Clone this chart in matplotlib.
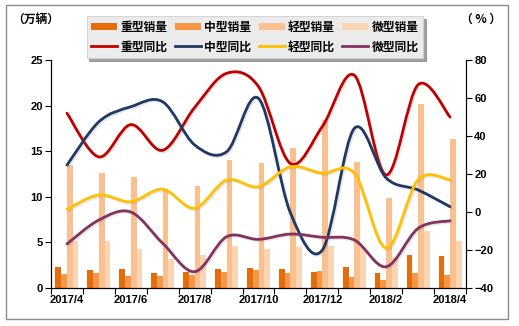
import matplotlib
matplotlib.use("Agg")
import matplotlib.pyplot as plt
import matplotlib.patheffects as pe
from matplotlib.path import Path
from matplotlib.patches import PathPatch, Rectangle
import numpy as np

plt.rcParams['font.family'] = ['Liberation Sans', 'Noto Sans CJK SC', 'DejaVu Sans']
plt.rcParams['font.weight'] = 'bold'

months = ['2017/4', '2017/5', '2017/6', '2017/7', '2017/8', '2017/9', '2017/10',
          '2017/11', '2017/12', '2018/1', '2018/2', '2018/3', '2018/4']

# sales volume, 10k units
heavy_sales = [2.3, 2.0, 2.1, 1.65, 1.7, 2.1, 2.2, 2.1, 1.8, 2.3, 1.65, 3.6, 3.5]
medium_sales = [1.5, 1.65, 1.3, 1.3, 1.4, 1.75, 2.0, 1.65, 1.85, 1.2, 0.9, 1.65, 1.4]
light_sales = [13.5, 12.6, 12.2, 10.9, 11.2, 14.0, 13.7, 15.3, 18.4, 13.8, 9.9, 20.2, 16.3]
micro_sales = [5.1, 5.1, 4.3, 3.2, 3.6, 4.6, 4.3, 4.5, 4.6, 4.5, 3.4, 6.3, 5.1]

# year-on-year growth, %
heavy_yoy = [52, 29, 46, 32.5, 55, 73, 66, 25.5, 45, 72, 19.5, 67, 50]
medium_yoy = [24.7, 47.5, 55.4, 58, 35.3, 31.7, 59.8, -0.5, -20, 44, 17.9, 11.6, 2.8]
light_yoy = [1.4, 9, 5.4, 12, 2, 16.8, 13.3, 23.8, 20.4, 20.4, -19, 17, 17]
micro_yoy = [-16.8, -4.2, 0, -16.5, -31.4, -13, -14.4, -11.6, -13.3, -14.7, -28.8, -8.6, -4.6]

bar_labels = ['重型销量', '中型销量', '轻型销量', '微型销量']
line_labels = ['重型同比', '中型同比', '轻型同比', '微型同比']
bar_colors = ['#E46C0A', '#F79646', '#FAC090', '#FCD5B5']
line_colors = ['#C00000', '#1F3864', '#FFC000', '#84325E']
cjk = ['Noto Sans CJK SC', 'DejaVu Sans']

W, H = 519, 326
fig = plt.figure(figsize=(W / 100, H / 100), dpi=100)
fig.patches.append(Rectangle((6 / W, 1 - 319 / H), 502 / W, 314 / H, transform=fig.transFigure,
                             fill=False, edgecolor='#8c8c8c', linewidth=1.0))

ax = fig.add_axes([51 / W, 1 - 288 / H, 415 / W, 228 / H])
ax2 = ax.twinx()

x = np.arange(len(months))
bw = 0.18
offsets = [-1.5 * bw, -0.5 * bw, 0.5 * bw, 1.5 * bw]
bar_handles = []
for vals, off, col, lab in zip([heavy_sales, medium_sales, light_sales, micro_sales],
                               offsets, bar_colors, bar_labels):
    h = ax.bar(x + off, vals, width=bw, color=col, label=lab, zorder=2, linewidth=0)
    bar_handles.append(h)


def smooth_path(xs, ys):
    """Cardinal-spline (Catmull-Rom) curve through the points as cubic Beziers."""
    pts = np.column_stack([xs, ys]).astype(float)
    n = len(pts)
    verts = [pts[0]]
    codes = [Path.MOVETO]
    for i in range(n - 1):
        p0 = pts[i - 1] if i > 0 else pts[i]
        p1 = pts[i]
        p2 = pts[i + 1]
        p3 = pts[i + 2] if i + 2 < n else pts[i + 1]
        c1 = p1 + (p2 - p0) / 6.0
        c2 = p2 - (p3 - p1) / 6.0
        verts += [c1, c2, p2]
        codes += [Path.CURVE4] * 3
    return Path(verts, codes)


line_handles = []
for vals, col, lab in zip([heavy_yoy, medium_yoy, light_yoy, micro_yoy], line_colors, line_labels):
    patch = PathPatch(smooth_path(x, vals), facecolor='none', edgecolor=col, linewidth=2.0,
                      capstyle='round', joinstyle='round', zorder=3,
                      path_effects=[pe.SimpleLineShadow(offset=(1.0, -1.0), shadow_color='gray', alpha=0.2),
                                    pe.Normal()])
    ax2.add_patch(patch)
    ln, = ax2.plot([], [], color=col, linewidth=2.0, label=lab)
    line_handles.append(ln)

ax.set_xlim(-0.5, len(months) - 0.5)
ax.set_ylim(0, 25)
ax.set_yticks(np.arange(0, 26, 5))
ax2.set_ylim(-40, 80)
ax2.set_yticks(np.arange(-40, 81, 20))

ax.set_xticks(x[::2])
ax.set_xticklabels(months[::2])
ax.set_xticks(np.arange(-0.5, len(months), 1.0), minor=True)
ax.tick_params(axis='x', which='major', length=0, pad=5, labelsize=8)
ax.tick_params(axis='x', which='minor', length=4, width=0.8, direction='out')
ax.tick_params(axis='y', length=4, width=0.8, direction='out', labelsize=8, pad=2)
ax2.tick_params(axis='y', length=4, width=0.8, direction='out', labelsize=8, pad=2)

for a in (ax, ax2):
    a.spines['top'].set_visible(False)
    for s in ('left', 'right', 'bottom'):
        a.spines[s].set_linewidth(0.8)
ax.set_zorder(ax2.get_zorder() - 1)
ax2.patch.set_visible(False)
ax.patch.set_visible(False)

handles = []
for b, l in zip(bar_handles, line_handles):
    handles += [b, l]
leg = fig.legend(handles=handles, ncol=4, loc='center', bbox_to_anchor=(255 / W, 1 - 37 / H),
                 frameon=True, fancybox=False, shadow=True,
                 handlelength=2.2, handleheight=0.6, columnspacing=0.6, handletextpad=0.3,
                 labelspacing=0.55, borderpad=0.4,
                 prop={'family': cjk, 'weight': 'bold', 'size': 8.5})
leg.get_frame().set_facecolor('#ebebeb')
leg.get_frame().set_edgecolor('#d0d0d0')
leg.get_frame().set_linewidth(0.6)

fig.text(12 / W, 1 - 19 / H, '（万辆）', fontsize=8.5, ha='left', va='center',
         family=cjk, weight='bold')
fig.text(501 / W, 1 - 19 / H, '（ % ）', fontsize=8.5, ha='right', va='center',
         family=cjk, weight='bold')

fig.savefig('out.png', dpi=100)
